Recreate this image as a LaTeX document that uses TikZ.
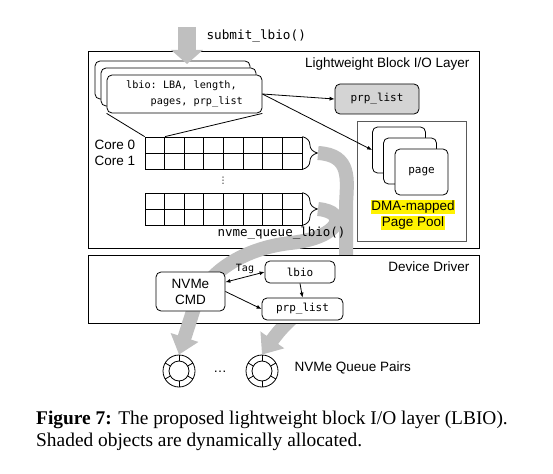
\documentclass[tikz,border=0pt]{standalone}
\usepackage{fontspec}
\setmainfont{Liberation Serif}
\setsansfont{Liberation Sans}
\setmonofont{DejaVu Sans Mono}
\newfontfamily\symfont{DejaVu Sans}
\usetikzlibrary{arrows.meta,positioning,decorations.pathreplacing}

\begin{document}
\begin{tikzpicture}[
    x=1pt, y=-1pt,
    sf/.style={font=\sffamily\fontsize{13.5}{16}\selectfont},
    tt/.style={font=\ttfamily\fontsize{11}{13}\selectfont},
    layer/.style={draw, line width=1pt, fill=white},
    rbox/.style={draw, rounded corners=5pt, fill=white, line width=0.8pt, inner sep=0pt, tt},
    cell/.style={draw, minimum width=19.625pt, minimum height=16pt, inner sep=0pt, line width=0.8pt},
    band/.style={line width=14pt, black!25, -{Triangle[width=28pt,length=18pt]}},
    link/.style={line width=0.8pt, -{Latex[length=5pt,width=4pt]}},
    ring/.style={draw, circle, line width=0.8pt, inner sep=0pt}
]
    \useasboundingbox (0,0) rectangle (553,473);

    % Lightweight Block I/O Layer
    \draw[layer] (88,52) rectangle (479,248);
    \node[sf, anchor=east] (lbl) at (473,64) {Lightweight Block I/O Layer};

    % lbio stack
    \node[rbox, minimum width=155pt, minimum height=38pt] (bk1) at (172.5,80) {};
    \node[rbox, minimum width=155pt, minimum height=38pt] (bk2) at (178.5,87) {};
    \node[rbox, minimum width=155pt, minimum height=38pt, align=left,
          font=\ttfamily\fontsize{10.2}{16}\selectfont] (lbio) at (184.5,94)
        {lbio: LBA, length,\\\phantom{lbio}pages, prp\_list};

    % prp_list and page pool
    \node[rbox, fill=black!17, minimum width=84pt, minimum height=30pt] (prp) at (377,99) {prp\_list};
    \node[draw=black!65, line width=1pt, minimum width=109pt, minimum height=119pt] (pool) at (411.5,181.5) {};
    \node[rbox, minimum width=53pt, minimum height=46pt] (pg1) at (399,150) {};
    \node[rbox, minimum width=53pt, minimum height=46pt] (pg2) at (410,161) {};
    \node[rbox, minimum width=53pt, minimum height=46pt] (pg3) at (421.5,172) {page};
    \node[sf, fill=yellow, inner sep=0.5pt] (dma1) at (413,207) {DMA-mapped};
    \node[sf, fill=yellow, inner sep=0.5pt] (dma2) at (413,223) {Page Pool};

    \draw[link] (lbio.east) -- (prp.west);
    \draw[link] (lbio.east) -- (pg1.west);

    % per-core queues
    \foreach \r/\y in {1/145, 2/161, 3/201, 4/217}
        \foreach \c in {1,...,8}
            \node[cell] (c\r\c) at ({145+19.625*(\c-0.5)},\y) {};
    \node[sf, left=6pt of c11] (core0) {Core 0};
    \node[sf, left=6pt of c21] (core1) {Core 1};
    \node[font=\symfont\fontsize{9}{10}\selectfont, inner sep=0pt] (vdots) at (223,181) {⋮};

    \draw[line width=0.8pt] (lbio.south west) -- (c11.north west);
    \draw[line width=0.8pt] (lbio.south east) -- (c11.north east);

    \draw[decorate, decoration={brace, amplitude=15pt}, line width=0.8pt] (c18.north east) -- (c28.south east);
    \draw[decorate, decoration={brace, amplitude=15pt}, line width=0.8pt] (c38.north east) -- (c48.south east);
    \coordinate (br1) at (318,153);
    \coordinate (br2) at (318,209);

    % NVMe queue pairs
    \foreach \n/\x in {q1/179, q2/262} {
        \node[ring, minimum size=32pt] (\n) at (\x,371) {};
        \node[ring, minimum size=20pt] (\n-in) at (\n) {};
        \foreach \a in {30,90,...,330}
            \draw[line width=0.8pt] (\n) ++(\a:10) -- ++(\a:6);
    }
    \node[sf] (qdots) at (220,372) {\dots};
    \node[sf, anchor=west] (qlbl) at (291,368) {NVMe Queue Pairs};

    % band from core 0
    \draw[band] (br1) .. controls (352,155) and (347,180) .. (346,205) -- (346,258)
        .. controls (346,292) and (302,298) .. (q2.north);

    % Device Driver
    \draw[layer] (88,255) rectangle (479,323);
    \node[sf, anchor=east] (ddl) at (473,267) {Device Driver};

    % band from core n
    \draw[band] (br2) .. controls (350,212) and (340,238) .. (290,243)
        .. controls (240,249) and (205,275) .. (195,305) -- (q1.north);

    \node[rbox, sf, align=center, minimum width=69pt, minimum height=39pt] (cmd) at (190.5,291.5) {NVMe\\CMD};
    \node[rbox, minimum width=70pt, minimum height=22pt] (dlbio) at (300,272) {lbio};
    \node[rbox, minimum width=81pt, minimum height=22pt] (dprp) at (302.5,309) {prp\_list};
    \draw[line width=0.8pt, {Latex[length=5pt,width=4pt]}-{Latex[length=5pt,width=4pt]}] (cmd.15)
        -- node[above, font=\ttfamily\fontsize{10}{12}\selectfont] (tag) {Tag} (dlbio.west);
    \draw[link] (cmd.east) -- (dprp.west);
    \draw[link] (dlbio.south) -- (dprp.north);

    \node[font=\ttfamily\fontsize{12.5}{14}\selectfont, anchor=east] (nq) at (349,233) {nvme\_queue\_lbio()};

    % submit
    \coordinate (sub) at (187,27);
    \coordinate (subtip) at (187,64);
    \draw[line width=18pt, black!25, -{Triangle[width=31pt,length=14pt]}] (sub) -- (subtip);
    \node[font=\ttfamily\fontsize{12.7}{14}\selectfont, anchor=west] (subm) at (203,36) {submit\_lbio()};

    % caption
    \node[font=\rmfamily\fontsize{19.4}{22}\selectfont, anchor=base west, inner sep=0pt] (cap1) at (36,424)
        {\textbf{Figure 7:} The proposed lightweight block I/O layer (LBIO).};
    \node[font=\rmfamily\fontsize{19.4}{22}\selectfont, anchor=base west, inner sep=0pt] (cap2) at (36,446)
        {Shaded objects are dynamically allocated.};
\end{tikzpicture}
\end{document}
